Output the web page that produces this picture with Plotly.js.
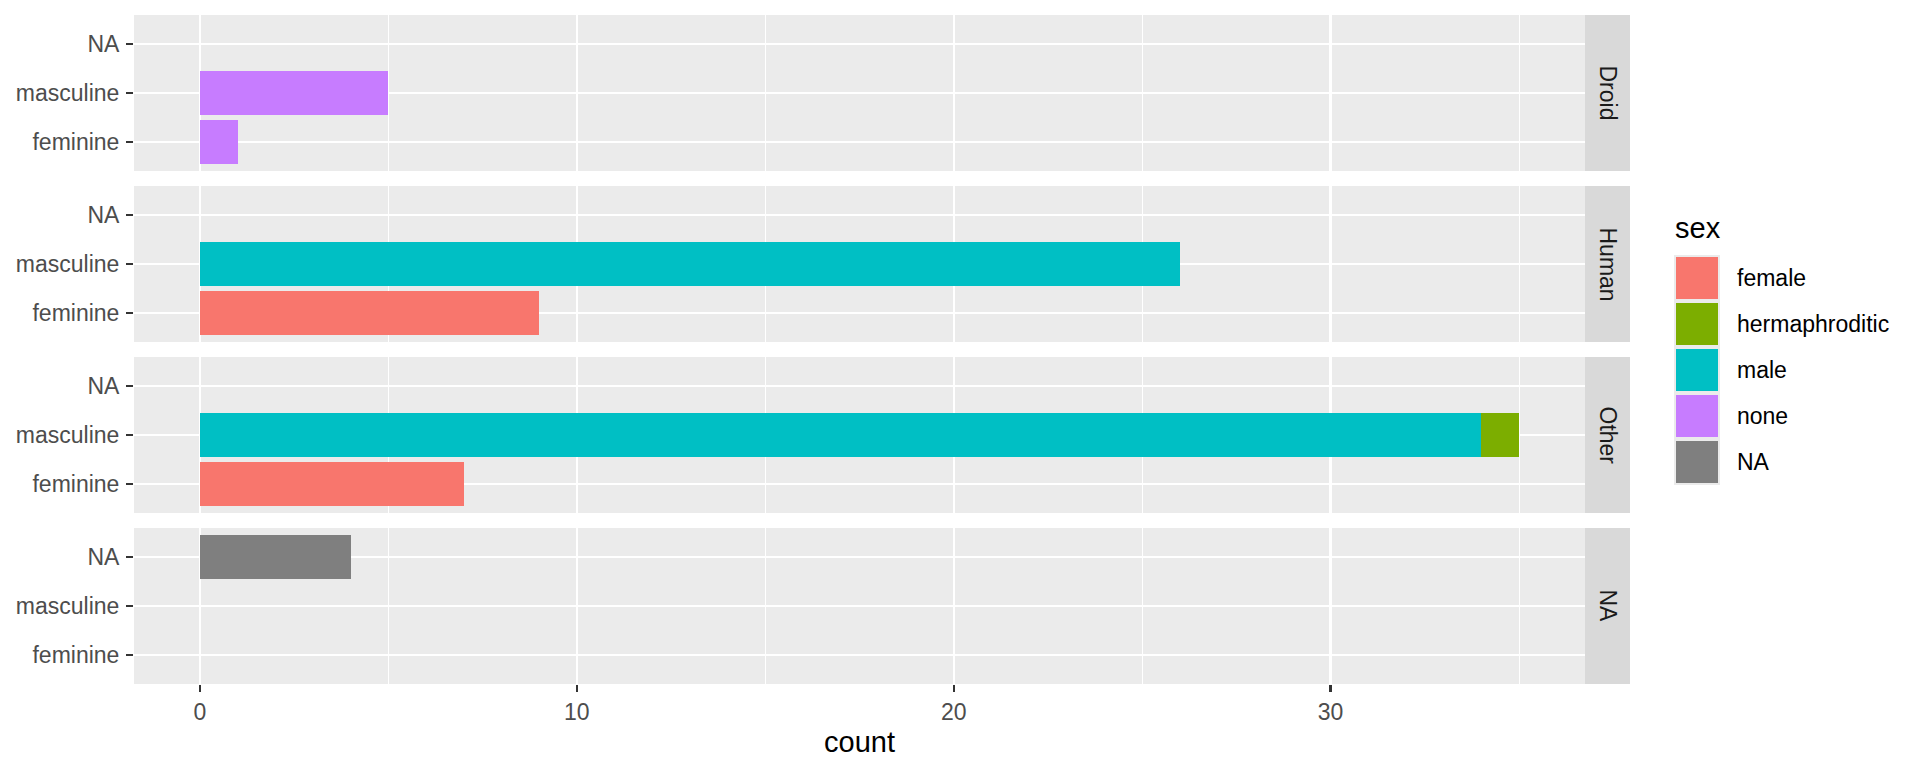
<!DOCTYPE html>
<html>
<head>
<meta charset="utf-8">
<script src="https://cdn.plot.ly/plotly-3.0.1.min.js"></script>
<style>html,body{margin:0;padding:0;background:#fff;}#chart{width:1920px;height:768px;}</style>
</head>
<body>
<div id="chart"></div>
<script>
// ---- data ----
const species = ['Droid', 'Human', 'Other', 'NA'];
const genders = ['feminine', 'masculine', 'NA'];
const sexLevels = ['female', 'hermaphroditic', 'male', 'none', 'NA'];
const sexColors = ['#F8766D', '#7CAE00', '#00BFC4', '#C77CFF', '#7F7F7F'];
const barSpecies = ['Droid', 'Droid', 'Human', 'Human', 'Other', 'Other', 'Other', 'NA'];
const barGender = ['masculine', 'feminine', 'masculine', 'feminine', 'masculine', 'masculine', 'feminine', 'NA'];
const barSex = ['none', 'none', 'male', 'female', 'male', 'hermaphroditic', 'female', 'NA'];
const barCount = [5, 1, 26, 9, 34, 1, 7, 4];
const xTicks = [0, 10, 20, 30];

// ---- layout geometry (px) ----
const W = 1920, H = 768;
const mL = 134, mR = W - 1585, mT = 15, mB = H - 684;
const plotW = W - mL - mR, plotH = H - mT - mB;
const panelH = 156, panelStep = 171;
const FONT = 'Liberation Sans, Arial, sans-serif';
const px2x = p => (p - mL) / plotW;
const px2y = p => (H - mB - p) / plotH;

const traces = [];
const layout = {
  width: W, height: H,
  margin: {l: mL, r: mR, t: mT, b: mB, pad: 0},
  paper_bgcolor: '#FFFFFF',
  plot_bgcolor: '#EBEBEB',
  barmode: 'stack',
  showlegend: false,
  font: {family: FONT, color: '#4D4D4D'},
  shapes: [],
  annotations: []
};

const stackOrder = sexLevels.slice().reverse();
species.forEach((sp, i) => {
  const suf = i === 0 ? '' : String(i + 1);
  const top = mT + panelStep * i;
  const isBottom = i === species.length - 1;
  stackOrder.forEach(sx => {
    const xs = [], ys = [];
    barCount.forEach((c, k) => {
      if (barSpecies[k] === sp && barSex[k] === sx) { xs.push(c); ys.push(barGender[k]); }
    });
    if (xs.length) {
      traces.push({
        type: 'bar', orientation: 'h', x: xs, y: ys, width: 0.9,
        name: sx, xaxis: 'x' + suf, yaxis: 'y' + suf,
        marker: {color: sexColors[sexLevels.indexOf(sx)], line: {width: 0}},
        hoverinfo: 'x+y+name'
      });
    }
  });
  layout['xaxis' + suf] = {
    domain: [0, 1], anchor: 'y' + suf, range: [-1.75, 36.75],
    tickmode: 'array', tickvals: xTicks, ticktext: xTicks.map(String),
    showgrid: true, gridcolor: '#FFFFFF', gridwidth: 2.2, zeroline: false, showline: false,
    minor: {dtick: 5, tick0: 5, showgrid: true, gridcolor: '#FFFFFF', gridwidth: 1.1, ticks: ''},
    showticklabels: isBottom, ticks: isBottom ? 'outside' : '',
    ticklen: 7, tickwidth: 2.2, tickcolor: '#333333',
    tickfont: {family: FONT, size: 23, color: '#4D4D4D'},
    fixedrange: true,
    matches: i === 0 ? undefined : 'x'
  };
  if (isBottom) {
    layout['xaxis' + suf].title = {text: 'count', font: {family: FONT, size: 29, color: '#000000'}, standoff: 8};
  }
  layout['yaxis' + suf] = {
    domain: [px2y(top + panelH), px2y(top)], anchor: 'x' + suf,
    type: 'category', categoryorder: 'array', categoryarray: genders,
    range: [-0.6, 2.6],
    showgrid: true, gridcolor: '#FFFFFF', gridwidth: 2.2, zeroline: false, showline: false,
    ticks: 'outside', ticklen: 7, tickwidth: 2.2, tickcolor: '#333333',
    tickfont: {family: FONT, size: 23, color: '#4D4D4D'},
    ticklabelstandoff: 2,
    fixedrange: true
  };
  // strip
  layout.shapes.push({
    type: 'rect', xref: 'paper', yref: 'paper', layer: 'below',
    x0: px2x(1585), x1: px2x(1630), y0: px2y(top + panelH), y1: px2y(top),
    fillcolor: '#D9D9D9', line: {width: 0}
  });
  layout.annotations.push({
    xref: 'paper', yref: 'paper', x: px2x(1607.5), y: px2y(top + panelH / 2),
    text: sp, showarrow: false, textangle: 90, xanchor: 'center', yanchor: 'middle',
    font: {family: FONT, size: 23, color: '#1A1A1A'}
  });
});

// legend (built from sexLevels / sexColors)
layout.annotations.push({
  xref: 'paper', yref: 'paper', x: px2x(1673), y: px2y(228),
  text: 'sex', showarrow: false, xanchor: 'left', yanchor: 'middle',
  font: {family: FONT, size: 29, color: '#000000'}
});
layout.shapes.push({
  type: 'rect', xref: 'paper', yref: 'paper',
  x0: px2x(1674), x1: px2x(1720), y0: px2y(255 + 46 * sexLevels.length), y1: px2y(255),
  fillcolor: '#EBEBEB', line: {width: 0}
});
sexLevels.forEach((s, j) => {
  const y0 = 257 + 46 * j;
  layout.shapes.push({
    type: 'rect', xref: 'paper', yref: 'paper',
    x0: px2x(1676), x1: px2x(1718), y0: px2y(y0 + 42), y1: px2y(y0),
    fillcolor: sexColors[j], line: {width: 0}
  });
  layout.annotations.push({
    xref: 'paper', yref: 'paper', x: px2x(1735), y: px2y(y0 + 21),
    text: s, showarrow: false, xanchor: 'left', yanchor: 'middle',
    font: {family: FONT, size: 23, color: '#000000'}
  });
});

Plotly.newPlot('chart', traces, layout, {displayModeBar: false, staticPlot: true});
</script>
</body>
</html>
